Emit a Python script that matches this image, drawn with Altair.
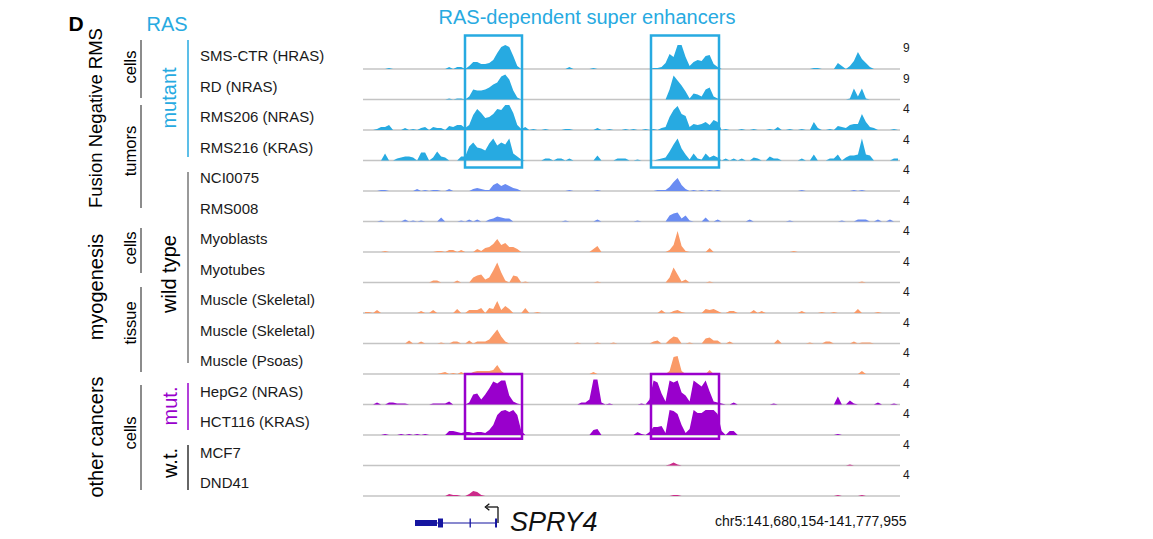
import altair as alt
import pandas as pd

# ---------------------------------------------------------------- data
CHROM = "chr5"
REGION_START = 141_680_154
REGION_END = 141_777_955
N_BINS = 134  # signal in equal bins across the region

TRACK_NAMES = [
    "SMS-CTR (HRAS)", "RD (NRAS)", "RMS206 (NRAS)", "RMS216 (KRAS)",
    "NCI0075", "RMS008", "Myoblasts", "Myotubes",
    "Muscle (Skeletal)", "Muscle (Skeletal)", "Muscle (Psoas)",
    "HepG2 (NRAS)", "HCT116 (KRAS)", "MCF7", "DND41",
]
TRACK_SCALE = [9, 9, 4, 4, 4, 4, 4, 4, 4, 4, 4, 4, 4, 4, 4]

# signal per bin as runs: (first bin, [values...]); unlisted bins are 0.
# values are heights relative to the track's full scale (27 = full scale)
SMS_CTR = [(6, [1]), (21, [2, 0, 2, 2]),
           (26, [3, 7, 7, 5, 5, 6, 9, 16, 22, 24, 22, 13, 3]),
           (51, [2]), (57, [1]),
           (72, [1, 1, 2, 6, 15, 12, 24, 24, 12, 3, 7, 9, 8, 13, 14, 5, 2]),
           (112, [1, 1]), (118, [6, 3]), (121, [3, 8, 17, 10, 6, 2])]
RD = [(21, [1, 0, 1, 1]),
      (26, [3, 10, 9, 9, 10, 12, 15, 17, 23, 25, 20, 9, 2]),
      (76, [10, 24, 19, 14, 8, 1, 6, 5, 3, 10, 12, 3, 1]),
      (121, [1, 11, 3, 11, 1])]
RMS206 = [(3, [1, 3, 3, 5]), (10, [2, 0, 1, 0, 2, 3]),
          (17, [3, 2, 2, 0, 4, 3, 5, 5, 2]),
          (26, [5, 15, 21, 17, 12, 13, 16, 21, 20, 25, 25, 17, 5, 1, 3]),
          (42, [1]), (45, [1]), (50, [1, 1]), (58, [2]), (61, [1]), (65, [1]),
          (67, [1]), (70, [1]),
          (72, [1, 0, 2, 3, 13, 20, 24, 16, 14, 3, 6, 5, 6, 8, 5, 10, 8]),
          (90, [1]), (94, [1]), (97, [1]), (101, [1, 0, 3]), (106, [1]),
          (109, [1]), (112, [8, 2]), (116, [1, 0, 4, 3, 2, 5, 6, 6, 16, 8, 3]),
          (127, [2]), (132, [1, 0])]
RMS216 = [(5, [7]), (8, [2, 3, 4, 4, 3]), (14, [8, 8, 0, 3, 9, 4, 3]),
          (24, [4, 4, 14, 18, 13, 12, 10, 17, 22, 15, 18, 16, 22, 7, 4, 1]),
          (45, [2, 2, 0, 2, 2, 0, 2]), (58, [5]), (63, [2, 2, 2]), (68, [1]),
          (73, [1, 2, 3, 9, 16, 22, 12, 6, 1, 7, 2, 1, 7, 3, 5, 3]),
          (90, [2]), (92, [2]), (94, [2]), (97, [3, 2]), (101, [4, 2, 2]),
          (109, [2]), (112, [6]), (116, [2, 2, 6, 0, 3, 5, 5, 6, 22, 6, 5]),
          (132, [2, 2])]
NCI0075 = [(4, [1, 1]), (13, [2]), (15, [1, 0, 1, 1]), (21, [2]),
           (27, [2, 3, 2, 1, 1, 6, 8, 5, 7, 5, 3, 2]),
           (51, [1]), (58, [1]), (72, [0, 1, 1, 1, 4, 9, 13, 6, 2]),
           (82, [1, 0, 1, 0, 1, 0, 1]), (109, [1]), (122, [1]), (124, [1])]
RMS008 = [(4, [1]), (10, [2]), (12, [1]), (14, [1]), (19, [4]), (24, [1]),
          (26, [2, 0, 2, 0, 0, 2, 3, 5, 4, 3, 3]),
          (50, [1]), (58, [2]), (68, [1]), (76, [6, 8, 9, 3, 6, 1]),
          (85, [4]), (88, [2]), (96, [2]), (106, [1]), (119, [1]),
          (123, [2, 2, 2]), (128, [2]), (131, [2])]
MYOBLASTS = [(5, [1]), (18, [1, 1]), (21, [2, 2, 0, 2]),
             (28, [3, 1, 4, 5, 8, 13, 7, 9, 5, 5, 3]),
             (57, [3, 6]), (76, [2, 7, 21, 6, 1]), (86, [4]), (107, [1])]
MYOTUBES = [(17, [2, 2]), (23, [2]),
            (27, [5, 7, 8, 3, 5, 12, 20, 10, 2, 0, 7, 6]),
            (40, [1]), (58, [1]), (76, [5, 15, 8, 1, 3]), (86, [1]), (124, [1])]
MUSCLE_SKELETAL_1 = [(0, [1, 1]), (3, [3]), (14, [2]), (17, [3]), (23, [4]),
                     (26, [3, 3, 3, 5, 0, 5, 4, 12, 3, 7, 4]),
                     (40, [5]), (43, [1]), (74, [3]), (77, [2, 3, 1]),
                     (85, [4, 3, 4, 2]), (91, [2, 2]), (97, [3, 0, 2]),
                     (109, [2]), (114, [1]), (117, [1]), (123, [4]), (128, [1])]
MUSCLE_SKELETAL_2 = [(11, [3]), (14, [2]), (19, [1]), (22, [2, 2]),
                     (26, [3, 0, 2, 2, 2, 4, 9, 14, 7, 2]),
                     (53, [1]), (58, [1]), (62, [1]), (72, [2, 3]),
                     (76, [4, 7, 6]), (81, [1]), (85, [5, 6, 3, 3]), (91, [2]),
                     (103, [4]), (111, [1]), (115, [2, 2]), (122, [2]),
                     (124, [1, 1, 1])]
MUSCLE_PSOAS = [(19, [1, 2]), (22, [1]), (24, [2]),
                (27, [2, 3, 3, 3, 3, 4, 9, 3]),
                (57, [2]), (76, [3, 17, 18, 3]), (86, [4]), (124, [3])]
HEPG2 = [(3, [2]), (6, [2, 2]), (8, [1, 1, 1]), (17, [1, 1, 1, 1]), (21, [3]),
         (26, [2, 10, 11, 5, 10, 16, 23, 21, 24, 24, 9, 3, 1]),
         (54, [2, 2, 5, 25, 25, 2]), (61, [1]),
         (69, [1, 0, 5, 24, 22, 11, 3, 24, 22, 24, 12, 9, 3, 24, 21, 18, 24, 13, 3, 2]),
         (89, [1]), (92, [2]), (102, [1]), (118, [8]), (121, [4, 1]),
         (128, [2]), (132, [1])]
HCT116 = [(5, [1]), (9, [1, 0, 1, 0, 1, 0, 1]),
          (21, [4, 4, 3, 2, 3, 3, 2, 3, 3, 2, 5, 10, 20, 24, 25, 23, 25, 20, 4]),
          (57, [5, 6]),
          (68, [3, 1, 0, 3, 8, 8, 9, 2, 25, 24, 21, 10, 2, 6, 25, 22, 22, 25,
                25, 25, 21, 4, 0, 4, 4]),
          (118, [1])]
MCF7 = [(76, [1, 3, 1]), (121, [1])]
DND41 = [(21, [2, 1, 1]), (26, [2, 5, 4, 1]), (77, [1, 1]), (118, [1]), (124, [1])]

SIGNALS = [SMS_CTR, RD, RMS206, RMS216, NCI0075, RMS008, MYOBLASTS, MYOTUBES,
           MUSCLE_SKELETAL_1, MUSCLE_SKELETAL_2, MUSCLE_PSOAS, HEPG2, HCT116,
           MCF7, DND41]

# RAS-dependent super-enhancer regions
SE_REGIONS = [(141_698_731, 141_709_112), (141_732_606, 141_744_991)]

# SPRY4 gene model (minus strand)
GENE_NAME = "SPRY4"
GENE_UTR = [(141_689_625, 141_693_631)]
GENE_EXONS = [(141_693_813, 141_694_724), (141_699_560, 141_699_800),
              (141_704_200, 141_704_560)]
GENE_INTRON = (141_693_631, 141_704_560)
GENE_TSS = 141_704_741
TSS_ARROW_TIP = 141_702_738

# ---------------------------------------------------------------- style / layout
FONT = "Liberation Sans"
BLUE = "#27aae1"
PERI = "#6a8cf2"
ORANGE = "#fa9a68"
PURPLE = "#9900cc"
MAGENTA = "#cc2a8a"
GENE_BLUE = "#1515a0"
TRACK_COLORS = [BLUE] * 4 + [PERI] * 2 + [ORANGE] * 5 + [PURPLE] * 2 + [MAGENTA] * 2

CANVAS_W, CANVAS_H = 1153, 539
PLOT_LEFT, PLOT_W = 363, 537
FIRST_BASE = 69.0     # pixel row of the first baseline
TRACK_PX = 30.5       # pixels between baselines

XS = alt.Scale(domain=[REGION_START, REGION_END], nice=False, zero=False)
YS = alt.Scale(domain=[-FIRST_BASE / TRACK_PX, (CANVAS_H - FIRST_BASE) / TRACK_PX],
               reverse=True, nice=False, zero=False)


def expand(runs):
    vals = [0.0] * N_BINS
    for start, run in runs:
        for k, v in enumerate(run):
            vals[start + k] = float(v)
    return vals


step = (REGION_END - REGION_START) / N_BINS
rows = []
for t, runs in enumerate(SIGNALS):
    for i, v in enumerate(expand(runs)):
        rows.append({"tid": f"t{t}", "track": t,
                     "pos": REGION_START + (i + 0.5) * step, "h": v})
sig_df = pd.DataFrame(rows)

tracks = pd.DataFrame({
    "track": list(range(len(TRACK_NAMES))),
    "name": TRACK_NAMES,
    "scale": [str(s) for s in TRACK_SCALE],
    "x0": REGION_START, "x1": REGION_END,
})

layers = []

# baselines
layers.append(alt.Chart(tracks).mark_rule(color="#c4c4c4", strokeWidth=1.5).encode(
    x=alt.X("x0:Q", scale=XS, axis=None), x2="x1:Q",
    y=alt.Y("track:Q", scale=YS, axis=None)))

# signal
layers.append(alt.Chart(sig_df).transform_calculate(
    top=f"datum.track - datum.h / {TRACK_PX}"
).mark_area(interpolate="linear", opacity=1).encode(
    x=alt.X("pos:Q", scale=XS, axis=None),
    y=alt.Y("top:Q", scale=YS, axis=None, stack=None),
    y2="track:Q",
    color=alt.Color("tid:N", scale=alt.Scale(domain=[f"t{i}" for i in range(15)],
                                              range=TRACK_COLORS), legend=None),
))

# super-enhancer boxes
blue_boxes = pd.DataFrame({"s": [r[0] for r in SE_REGIONS], "e": [r[1] for r in SE_REGIONS],
                           "top": -1.1, "bot": 3.23})
purple_boxes = pd.DataFrame({"s": [r[0] for r in SE_REGIONS], "e": [r[1] for r in SE_REGIONS],
                             "top": 10.0, "bot": 12.12})
for df, col in [(blue_boxes, BLUE), (purple_boxes, PURPLE)]:
    layers.append(alt.Chart(df).mark_rect(fillOpacity=0, stroke=col, strokeWidth=2.5).encode(
        x=alt.X("s:Q", scale=XS, axis=None), x2="e:Q",
        y=alt.Y("top:Q", scale=YS, axis=None), y2="bot:Q"))

# track names and scale labels
layers.append(alt.Chart(tracks).mark_text(align="left", baseline="middle", dy=-13,
                                          font=FONT, fontSize=15, color="#1a1a1a").encode(
    x=alt.value(200 - PLOT_LEFT), y=alt.Y("track:Q", scale=YS, axis=None), text="name:N"))
layers.append(alt.Chart(tracks).mark_text(align="left", baseline="middle", dy=-21,
                                          font=FONT, fontSize=12, color="#1a1a1a").encode(
    x=alt.value(903 - PLOT_LEFT), y=alt.Y("track:Q", scale=YS, axis=None), text="scale:N"))


def note(text, x, y, **kw):
    return alt.Chart(pd.DataFrame({"label": [text]})).mark_text(
        font=FONT, baseline="middle", **kw).encode(
        x=alt.value(x - PLOT_LEFT), y=alt.value(y), text="label:N")


def vline(x, y0, y1, color):
    return alt.Chart(pd.DataFrame({"k": [0]})).mark_rule(color=color, strokeWidth=1.5).encode(
        x=alt.value(x - PLOT_LEFT), y=alt.value(y0), y2=alt.value(y1))


# headings
layers.append(note("D", 76, 25, fontSize=21, fontWeight="bold", color="#000"))
layers.append(note("RAS", 167, 25, fontSize=20, color=BLUE))
layers.append(note("RAS-dependent super enhancers", 587, 18, fontSize=20, color=BLUE))

# rotated group labels
rot = [
    ("Fusion Negative RMS", 96, 118, 18.5, "#000"),
    ("myogenesis", 97, 287, 20, "#000"),
    ("other cancers", 97, 437, 20, "#000"),
    ("cells", 131, 67, 16.5, "#000"),
    ("tumors", 131, 151, 16.5, "#000"),
    ("cells", 131, 248, 16.5, "#000"),
    ("tissue", 131, 323, 16.5, "#000"),
    ("cells", 131, 433, 16.5, "#000"),
    ("mutant", 170, 98, 20, BLUE),
    ("wild type", 170, 274, 20, "#000"),
    ("mut.", 171, 406, 20, PURPLE),
    ("w.t.", 171, 463, 20, "#000"),
]
for txt, x, y, fs, col in rot:
    layers.append(note(txt, x, y, fontSize=fs, color=col, angle=270, align="center"))

# bracket lines
for x, y0, y1, col in [
    (141, 40, 98, "#666"), (141, 105, 208, "#666"), (141, 228, 273, "#666"),
    (141, 287, 372, "#666"), (141, 385, 490, "#666"),
    (188, 40, 157, BLUE), (188, 172, 363, "#777"),
    (188, 383, 430, PURPLE), (188, 445, 490, "#333"),
]:
    layers.append(vline(x, y0, y1, col))

# gene model
layers.append(alt.Chart(pd.DataFrame({"s": [GENE_INTRON[0]], "e": [GENE_INTRON[1]]})).mark_rule(
    color=GENE_BLUE, strokeWidth=1.2).encode(
    x=alt.X("s:Q", scale=XS, axis=None), x2="e:Q", y=alt.value(523)))
layers.append(alt.Chart(pd.DataFrame(GENE_UTR, columns=["s", "e"])).mark_rect(color=GENE_BLUE).encode(
    x=alt.X("s:Q", scale=XS, axis=None), x2="e:Q", y=alt.value(520), y2=alt.value(526)))
layers.append(alt.Chart(pd.DataFrame(GENE_EXONS, columns=["s", "e"])).mark_rect(color=GENE_BLUE).encode(
    x=alt.X("s:Q", scale=XS, axis=None), x2="e:Q", y=alt.value(518.5), y2=alt.value(527.5)))
layers.append(alt.Chart(pd.DataFrame({"p": [GENE_TSS]})).mark_rule(color="#111", strokeWidth=1.3).encode(
    x=alt.X("p:Q", scale=XS, axis=None), y=alt.value(507), y2=alt.value(523)))
layers.append(alt.Chart(pd.DataFrame({"s": [TSS_ARROW_TIP], "e": [GENE_TSS]})).mark_rule(
    color="#111", strokeWidth=1.3).encode(
    x=alt.X("s:Q", scale=XS, axis=None), x2="e:Q", y=alt.value(507)))
layers.append(alt.Chart(pd.DataFrame({"p": [TSS_ARROW_TIP]})).mark_point(
    shape="M0.7,-1L-0.5,0L0.7,1", filled=False, size=45, color="#111", strokeWidth=1.3,
    opacity=1).encode(x=alt.X("p:Q", scale=XS, axis=None), y=alt.value(507)))

layers.append(note(GENE_NAME, 510, 523, fontSize=27, fontStyle="italic", align="left", color="#111"))
layers.append(note(f"{CHROM}:{REGION_START:,}-{REGION_END:,}", 715, 522, fontSize=14,
                   align="left", color="#111"))

chart = alt.layer(*layers).properties(
    width=PLOT_W, height=CANVAS_H,
    padding={"left": PLOT_LEFT, "right": CANVAS_W - PLOT_LEFT - PLOT_W, "top": 0, "bottom": 0},
    autosize=alt.AutoSizeParams(type="none"),
).configure_view(stroke=None)

chart.save("out.html", embed_options={"renderer": "svg", "actions": False})
